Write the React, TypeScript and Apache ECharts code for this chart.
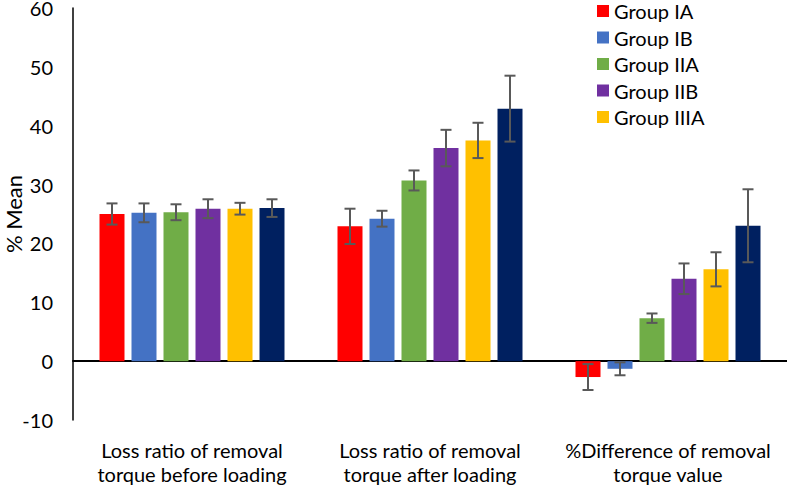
import React, { useEffect, useRef } from "react";
import * as echarts from "echarts";

const categories = [
  "Loss ratio of removal\ntorque before loading",
  "Loss ratio of removal\ntorque after loading",
  "%Difference of removal\ntorque value",
];
const seriesNames = ["Group IA", "Group IB", "Group IIA", "Group IIB", "Group IIIA", "Group IIIB"];
const legendNames = ["Group IA", "Group IB", "Group IIA", "Group IIB", "Group IIIA"];
const colors = ["#FF0000", "#4472C4", "#70AD47", "#7030A0", "#FFC000", "#002060"];

const meanIA = [25.0, 22.9, -2.7];
const meanIB = [25.2, 24.2, -1.3];
const meanIIA = [25.3, 30.7, 7.3];
const meanIIB = [25.9, 36.2, 14.0];
const meanIIIA = [25.9, 37.5, 15.6];
const meanIIIB = [26.0, 42.9, 23.0];

const errIA = [1.8, 3.0, 2.2];
const errIB = [1.6, 1.35, 1.1];
const errIIA = [1.35, 1.7, 0.8];
const errIIB = [1.6, 3.1, 2.6];
const errIIIA = [1.0, 3.0, 2.9];
const errIIIB = [1.5, 5.6, 6.2];

const yTicks = { min: -10, max: 60, interval: 10 };

const means = [meanIA, meanIB, meanIIA, meanIIB, meanIIIA, meanIIIB];
const errs = [errIA, errIB, errIIA, errIIB, errIIIA, errIIIB];

const FONT = "Lato";
const BAR_W = 25;
const BAR_GAP = 7;

export default function App() {
  const ref = useRef<HTMLDivElement>(null);
  useEffect(() => {
    document.body.style.margin = "0";
    if (!ref.current) return;
    const chart = echarts.init(ref.current, null, { renderer: "svg" });
    const n = seriesNames.length;
    const barSeries = seriesNames.map((name, i) => ({
      name,
      type: "bar",
      data: means[i],
      barWidth: BAR_W,
      barGap: `${(BAR_GAP / BAR_W) * 100}%`,
      itemStyle: { color: colors[i] },
      z: 2,
    }));
    const errSeries = seriesNames.map((name, i) => {
      const offset = (i - (n - 1) / 2) * (BAR_W + BAR_GAP);
      return {
        name: name + " err",
        type: "custom",
        z: 5,
        data: means[i].map((m, c) => [c, m - errs[i][c], m + errs[i][c]]),
        renderItem: (params: any, api: any) => {
          const c = api.value(0);
          const lo = api.coord([c, api.value(1)]);
          const hi = api.coord([c, api.value(2)]);
          const x = lo[0] + offset;
          const hw = 5.5;
          const style = { stroke: "#595959", lineWidth: 2 };
          return {
            type: "group",
            children: [
              { type: "line", shape: { x1: x, y1: lo[1], x2: x, y2: hi[1] }, style },
              { type: "line", shape: { x1: x - hw, y1: lo[1], x2: x + hw, y2: lo[1] }, style },
              { type: "line", shape: { x1: x - hw, y1: hi[1], x2: x + hw, y2: hi[1] }, style },
            ],
          };
        },
      };
    });
    chart.setOption({
      animation: false,
      backgroundColor: "#ffffff",
      textStyle: { fontFamily: FONT },
      legend: {
        data: legendNames,
        orient: "vertical",
        left: 597,
        top: 1,
        padding: 0,
        itemWidth: 12,
        itemHeight: 12,
        itemGap: 6.5,
        icon: "rect",
        textStyle: { fontFamily: FONT, fontSize: 20, color: "#000" },
      },
      grid: {
        left: 73,
        right: 0,
        top: 8,
        bottom: 66,
        containLabel: false,
        outerBoundsMode: "none",
      },
      xAxis: {
        type: "category",
        data: categories,
        axisLine: { onZero: true, lineStyle: { color: "#000", width: 2 } },
        axisTick: { show: false },
        axisLabel: {
          margin: 18,
          fontFamily: FONT,
          fontSize: 20,
          lineHeight: 24,
          color: "#000",
          interval: 0,
        },
      },
      yAxis: {
        type: "value",
        min: yTicks.min,
        max: yTicks.max,
        interval: yTicks.interval,
        name: "% Mean",
        nameLocation: "middle",
        nameGap: 49,
        nameMoveOverlap: false,
        nameTextStyle: { fontFamily: FONT, fontSize: 22, color: "#000" },
        axisLine: { show: true, lineStyle: { color: "#000", width: 1.5 } },
        axisTick: { show: false },
        splitLine: { show: false },
        axisLabel: { fontFamily: FONT, fontSize: 20, lineHeight: 16, color: "#000", margin: 20 },
      },
      series: [...barSeries, ...errSeries],
    });
    return () => chart.dispose();
  }, []);
  return <div ref={ref} style={{ width: 787, height: 486 }} />;
}
